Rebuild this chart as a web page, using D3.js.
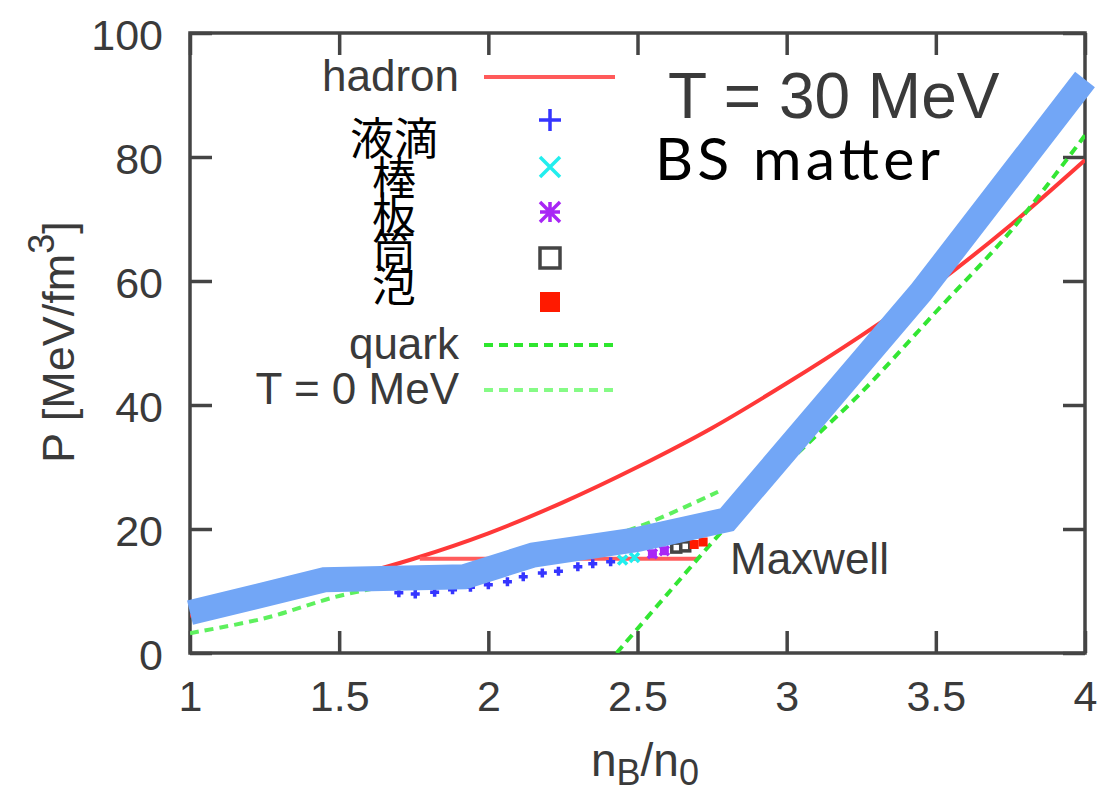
<!DOCTYPE html>
<html>
<head>
<meta charset="utf-8">
<script src="https://cdn.jsdelivr.net/npm/d3@7"></script>
<style>
  body { margin: 0; background: #fff; }
  svg { display: block; }
  .tick text { font-family: "Liberation Sans", Arial, sans-serif; font-size: 43px; fill: #3a3a3a; }
  .tick line { stroke: #444; stroke-width: 3.5; }
  .label { font-family: "Liberation Sans", Arial, sans-serif; fill: #3a3a3a; }
</style>
</head>
<body>
<div id="chart"></div>
<script>
// axis ticks
const densityTicks = [1, 1.5, 2, 2.5, 3, 3.5, 4];
const pressureTicks = [0, 20, 40, 60, 80, 100];

// hadron EOS, T = 30 MeV
const hadronX = [1, 1.25, 1.5, 1.75, 2, 2.25, 2.5, 2.75, 3, 3.25, 3.5, 3.75, 4];
const hadronP = [6, 8.8, 11.8, 15.2, 19.3, 24.3, 30, 36.3, 43.5, 51.2, 59.5, 69, 79.5];

// Maxwell construction
const maxwellX = [1.77, 2.70];
const maxwellP = [15.2, 15.2];

// quark EOS
const quarkX = [2.43, 2.6, 2.8, 3.0, 3.25, 3.5, 3.75, 4.0];
const quarkP = [0, 9.5, 20.5, 30.5, 42, 55, 68, 83.5];

// T = 0 MeV
const coldX = [1.0, 1.25, 1.5, 1.75, 2.0, 2.25, 2.5, 2.77];
const coldP = [3.2, 5.6, 9.2, 11.6, 13.5, 16.6, 20.3, 26];

// pasta phases
const dropletX = [1.70, 1.755, 1.82, 1.88, 1.94, 2.00, 2.064, 2.117, 2.181, 2.235, 2.30, 2.35, 2.41];
const dropletP = [9.7, 9.5, 9.8, 10.2, 10.6, 11.0, 11.5, 12.3, 12.9, 13.2, 13.9, 14.4, 14.7];
const rodX = [2.45, 2.49];
const rodP = [15.0, 15.4];
const slabX = [2.55, 2.59];
const slabP = [16.0, 16.5];
const tubeX = [2.63, 2.66];
const tubeP = [17.0, 17.2];
const bubbleX = [2.69, 2.72];
const bubbleP = [17.5, 17.9];

// BS matter (overlay)
const bsX = [1.0, 1.45, 1.92, 2.15, 2.5, 2.8, 3.45, 4.0];
const bsP = [6.5, 11.8, 12.3, 15.8, 18.3, 21.5, 58.2, 92.5];

const pastaNames = ['液滴', '棒', '板', '筒', '泡'];

const svgWidth = 1107;
const svgHeight = 791;

const svg = d3.select('#chart')
  .append('svg')
    .attr('width', svgWidth)
    .attr('height', svgHeight);

const margin = { top: 33, right: 22, bottom: 138, left: 190 };
const innerWidth = svgWidth - margin.left - margin.right;
const innerHeight = svgHeight - margin.top - margin.bottom;

const xScale = d3.scaleLinear().domain([1, 4]).range([0, innerWidth]);
const yScale = d3.scaleLinear().domain([0, 100]).range([innerHeight, 0]);

const g = svg.append('g')
  .attr('transform', `translate(${margin.left},${margin.top})`);

g.append('clipPath').attr('id', 'plot-clip')
  .append('rect')
    .attr('width', innerWidth)
    .attr('height', innerHeight);

// axes, ticks pointing inward on all four sides
const xAxisG = g.append('g')
  .attr('transform', `translate(0,${innerHeight})`)
  .call(d3.axisBottom(xScale).tickValues(densityTicks)
    .tickSizeInner(-22).tickSizeOuter(0).tickPadding(27)
    .tickFormat(d3.format('')));
xAxisG.select('.domain').remove();

const yAxisG = g.append('g')
  .call(d3.axisLeft(yScale).tickValues(pressureTicks)
    .tickSizeInner(-22).tickSizeOuter(0).tickPadding(27));
yAxisG.select('.domain').remove();
yAxisG.selectAll('.tick text').attr('dy', '0.38em');

g.append('g')
  .call(d3.axisTop(xScale).tickValues(densityTicks)
    .tickSizeInner(-22).tickSizeOuter(0).tickFormat(''))
  .select('.domain').remove();

g.append('g')
  .attr('transform', `translate(${innerWidth},0)`)
  .call(d3.axisRight(yScale).tickValues(pressureTicks)
    .tickSizeInner(-22).tickSizeOuter(0).tickFormat(''))
  .select('.domain').remove();

g.append('rect')
  .attr('width', innerWidth)
  .attr('height', innerHeight)
  .attr('fill', 'none')
  .attr('stroke', '#444')
  .attr('stroke-width', 3.5);

// axis labels
const yLabel = svg.append('text')
  .attr('class', 'label')
  .attr('transform', 'translate(74,342) rotate(-90)')
  .attr('text-anchor', 'middle')
  .attr('font-size', 45);
yLabel.append('tspan').text('P [MeV/fm');
yLabel.append('tspan').attr('font-size', 36).attr('dy', -20).text('3');
yLabel.append('tspan').attr('dy', 20).text(']');

const xLabel = svg.append('text')
  .attr('class', 'label')
  .attr('x', 645)
  .attr('y', 776)
  .attr('text-anchor', 'middle')
  .attr('font-size', 46);
xLabel.append('tspan').text('n');
xLabel.append('tspan').attr('font-size', 36).attr('dy', 9).text('B');
xLabel.append('tspan').attr('dy', -9).text('/n');
xLabel.append('tspan').attr('font-size', 36).attr('dy', 9).text('0');

// curves
const line = d3.line()
  .x(d => xScale(d[0]))
  .y(d => yScale(d[1]));

const smooth = d3.line()
  .x(d => xScale(d[0]))
  .y(d => yScale(d[1]))
  .curve(d3.curveCatmullRom);

const plot = g.append('g').attr('clip-path', 'url(#plot-clip)');

plot.append('path')
  .datum(d3.zip(hadronX, hadronP))
  .attr('d', smooth)
  .attr('fill', 'none')
  .attr('stroke', '#ff3838')
  .attr('stroke-width', 4);

plot.append('path')
  .datum(d3.zip(maxwellX, maxwellP))
  .attr('d', line)
  .attr('fill', 'none')
  .attr('stroke', '#ff5c5c')
  .attr('stroke-width', 4);

plot.append('path')
  .datum(d3.zip(coldX, coldP))
  .attr('d', smooth)
  .attr('fill', 'none')
  .attr('stroke', '#5ef05e')
  .attr('stroke-width', 4)
  .attr('stroke-dasharray', '9,6');

plot.append('path')
  .datum(d3.zip(quarkX, quarkP))
  .attr('d', smooth)
  .attr('fill', 'none')
  .attr('stroke', '#33e633')
  .attr('stroke-width', 4)
  .attr('stroke-dasharray', '9,6');

// markers
const markerPath = {
  plus: s => `M${-s},0H${s}M0,${-s}V${s}`,
  times: s => `M${-s},${-s}L${s},${s}M${-s},${s}L${s},${-s}`,
  star: s => `M${-s},0H${s}M0,${-s}V${s}M${-s},${-s}L${s},${s}M${-s},${s}L${s},${-s}`
};

const pasta = [
  { name: pastaNames[0], xs: dropletX, ps: dropletP, kind: 'plus', color: '#3535ff' },
  { name: pastaNames[1], xs: rodX, ps: rodP, kind: 'times', color: '#22eeee' },
  { name: pastaNames[2], xs: slabX, ps: slabP, kind: 'star', color: '#a826f5' },
  { name: pastaNames[3], xs: tubeX, ps: tubeP, kind: 'square', color: '#444' },
  { name: pastaNames[4], xs: bubbleX, ps: bubbleP, kind: 'filled', color: '#ff1a00' }
];

const drawMarker = (sel, kind, color, s) => {
  if (kind === 'square') {
    sel.append('rect')
      .attr('x', -s).attr('y', -s).attr('width', 2 * s).attr('height', 2 * s)
      .attr('fill', '#fff').attr('stroke', color).attr('stroke-width', 3.5);
  } else if (kind === 'filled') {
    sel.append('rect')
      .attr('x', -s).attr('y', -s).attr('width', 2 * s).attr('height', 2 * s)
      .attr('fill', color);
  } else {
    sel.append('path')
      .attr('d', markerPath[kind](s))
      .attr('fill', 'none').attr('stroke', color).attr('stroke-width', 3.5);
  }
};

pasta.forEach(p => {
  plot.selectAll(null).data(d3.zip(p.xs, p.ps))
    .enter().append('g')
      .attr('transform', d => `translate(${xScale(d[0])},${yScale(d[1])})`)
      .each(function() { drawMarker(d3.select(this), p.kind, p.color, 4.5); });
});

// BS matter thick overlay
g.append('path')
  .datum(d3.zip(bsX, bsP))
  .attr('d', line)
  .attr('fill', 'none')
  .attr('stroke', '#72a6f6')
  .attr('stroke-width', 25)
  .attr('stroke-linejoin', 'miter')
  .attr('stroke-linecap', 'butt');

// legend
const legend = svg.append('g');
const legendTextX = 459;
const legendLine = [484, 615];

const lineRows = [
  { label: 'hadron', y: 77, color: '#ff5a5a', dash: null },
  { label: 'quark', y: 345, color: '#2ee62e', dash: '9,6' },
  { label: 'T = 0 MeV', y: 390, color: '#86fb86', dash: '9,6' }
];

lineRows.forEach(r => {
  legend.append('text')
    .attr('class', 'label')
    .attr('x', legendTextX)
    .attr('y', r.y + 14)
    .attr('text-anchor', 'end')
    .attr('font-size', 44)
    .text(r.label);
  legend.append('line')
    .attr('x1', legendLine[0]).attr('x2', legendLine[1])
    .attr('y1', r.y).attr('y2', r.y)
    .attr('stroke', r.color)
    .attr('stroke-width', 4)
    .attr('stroke-dasharray', r.dash);
});

const markerRowsY = [120, 167, 212, 258, 302];
const cjkBaseline = [155, 194, 230, 267, 302];

pasta.forEach((p, i) => {
  const mg = legend.append('g').attr('transform', `translate(550,${markerRowsY[i]})`);
  drawMarker(mg, p.kind, p.color, p.kind === 'plus' ? 11 : 10);
  legend.append('text')
    .attr('x', 394)
    .attr('y', cjkBaseline[i])
    .attr('text-anchor', 'middle')
    .attr('font-family', '"Noto Sans CJK JP", sans-serif')
    .attr('font-size', 44)
    .attr('fill', '#000')
    .text(p.name);
});

// annotations
svg.append('text')
  .attr('class', 'label')
  .attr('x', 668)
  .attr('y', 118)
  .attr('font-size', 64)
  .attr('fill', '#333')
  .text('T = 30 MeV');

svg.append('text')
  .attr('x', 655)
  .attr('y', 180)
  .attr('font-family', 'Lato, "Noto Sans", sans-serif')
  .attr('font-size', 59)
  .attr('fill', '#000')
  .attr('textLength', 285)
  .attr('lengthAdjust', 'spacing')
  .text('BS matter');

svg.append('text')
  .attr('class', 'label')
  .attr('x', 730)
  .attr('y', 574)
  .attr('font-size', 44)
  .text('Maxwell');
</script>
</body>
</html>
